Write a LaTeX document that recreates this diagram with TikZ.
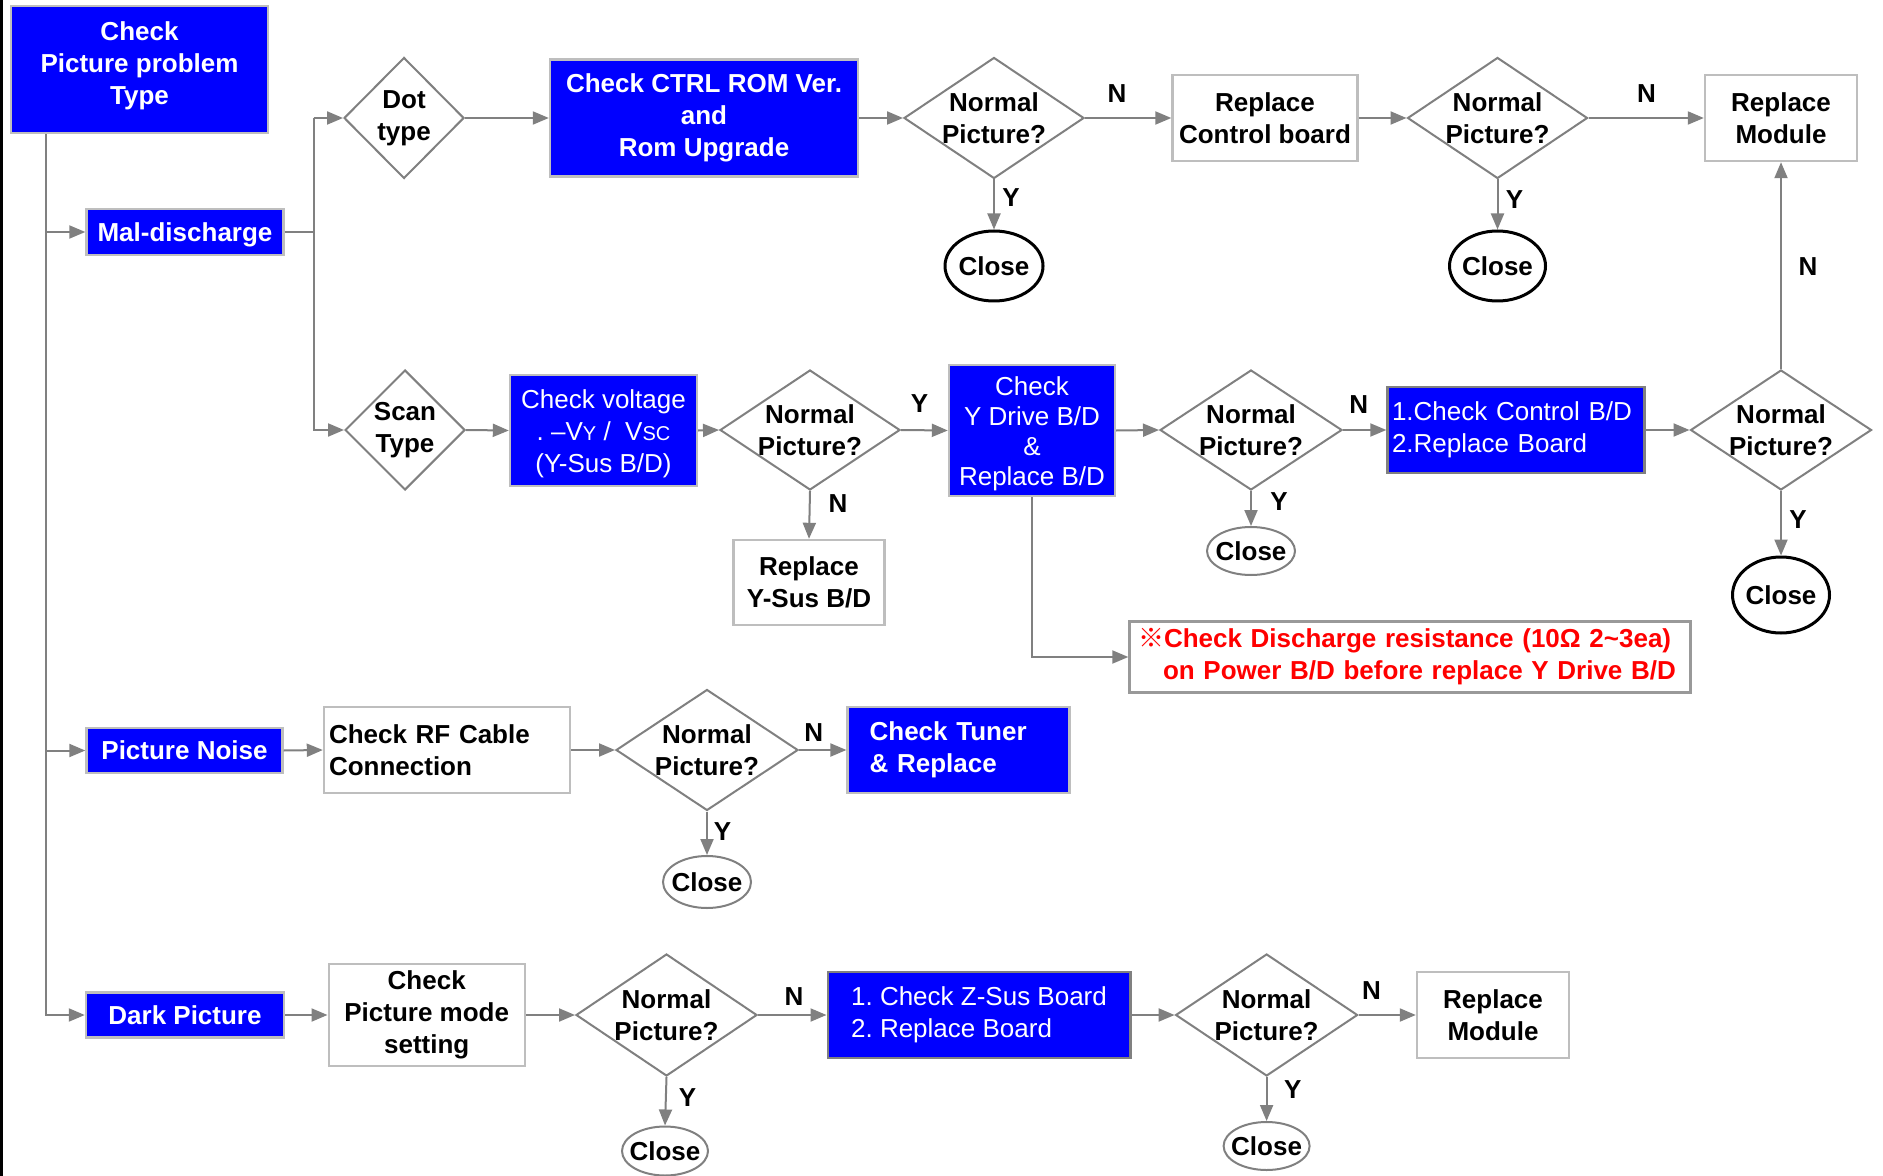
\documentclass[tikz,border=0pt]{standalone}
\usepackage{fontspec}
\setmainfont{Liberation Sans}
\newfontfamily\cjk{Noto Sans CJK SC}
\usetikzlibrary{shapes.geometric, arrows.meta}
\definecolor{pblue}{RGB}{0,0,255}
\definecolor{lgray}{RGB}{128,128,128}
\definecolor{bgray}{RGB}{190,190,190}
\definecolor{pred}{RGB}{255,0,0}
\newcommand{\fs}{\fontsize{13}{16}\selectfont}
\newcommand{\fsm}{\fontsize{10}{12}\selectfont}
\frenchspacing
\tikzset{
  box/.style={rectangle, draw=bgray, line width=1.2pt, inner sep=0pt, align=center, font=\fs\bfseries},
  bluebox/.style={box, fill=pblue, text=white},
  bluereg/.style={box, fill=pblue, text=white, font=\fs},
  whitebox/.style={box, fill=white, text=black},
  oneline/.style={text depth=0pt},
  wtext/.style={font=\fs\bfseries, text=white, align=center, inner sep=0pt},
  wregtext/.style={font=\fs, text=white, align=center, inner sep=0pt},
  dia/.style={diamond, draw=lgray, line width=1pt, inner sep=0pt, fill=white},
  dtext/.style={font=\fs\bfseries, align=center, inner sep=0pt},
  closeb/.style={ellipse, draw=black, line width=1.5pt, inner sep=0pt, fill=white},
  closeg/.style={ellipse, draw=lgray, line width=1pt, inner sep=0pt, fill=white},
  conn/.style={draw=lgray, line width=1pt},
  arr/.style={conn, -{Triangle[length=8pt,width=6.5pt]}},
  lab/.style={font=\fs\bfseries, inner sep=0pt},
}
\begin{document}
\begin{tikzpicture}[x=0.5pt, y=-0.5pt]
\useasboundingbox (0,0) rectangle (1883,1176);
\fill[white] (0,0) rectangle (1883,1176);
\fill[black] (0,0) rectangle (2.5,1176);

% ---------- nodes ----------
\node[bluebox, minimum width=128.5pt, minimum height=63.5pt, label={[wtext, yshift=1.8pt]center:Check\\Picture problem\\Type}] (top) at (139.5,69.5) {};
\node[bluebox, oneline, minimum width=98.5pt, minimum height=23pt] (mal) at (185,232) {Mal-discharge};
\node[bluebox, oneline, minimum width=98pt, minimum height=22.5pt] (noise) at (184.5,750.5) {Picture Noise};
\node[bluebox, oneline, minimum width=99pt, minimum height=22.5pt] (dark) at (185,1015) {Dark Picture};

\coordinate (bx) at (313.5,232);
\coordinate (tk) at (45.5,1015);

% row 1
\node[dia, minimum width=60pt, minimum height=60.5pt, label={[dtext]center:Dot\\type}] (dot) at (404,118) {};
\node[bluebox, minimum width=154pt, minimum height=58.5pt] (ctrl) at (704,118) {Check CTRL ROM Ver.\\and\\Rom Upgrade};
\node[dia, minimum width=90pt, minimum height=60.5pt, label={[dtext]center:Normal\\Picture?}] (d1) at (994,118) {};
\node[closeb, minimum width=49pt, minimum height=35pt, label={[dtext]center:Close}] (c1) at (994,266) {};
\node[whitebox, minimum width=92.5pt, minimum height=43pt] (rcb) at (1265,118) {Replace\\Control board};
\node[dia, minimum width=90pt, minimum height=60.5pt, label={[dtext]center:Normal\\Picture?}] (d2) at (1497.5,118) {};
\node[closeb, minimum width=48pt, minimum height=35pt, label={[dtext]center:Close}] (c2) at (1497.5,266) {};
\node[whitebox, minimum width=76pt, minimum height=43pt] (rm1) at (1781,118) {Replace\\Module};

% row 2
\node[dia, minimum width=60pt, minimum height=60pt, label={[dtext]center:Scan\\Type}] (scan) at (405,430) {};
\node[bluereg, minimum width=93.5pt, minimum height=55.5pt, label={[wregtext, yshift=-1.8pt]center:Check voltage\\. --V{\fsm Y} /\ \ V{\fsm SC}\\(Y-Sus B/D)}] (cv) at (603.5,430.5) {};
\node[dia, minimum width=90pt, minimum height=60pt, label={[dtext]center:Normal\\Picture?}] (d3) at (810,430) {};
\node[whitebox, minimum width=75.5pt, minimum height=42.5pt] (rys) at (809,582.5) {Replace\\Y-Sus B/D};
\node[bluereg, minimum width=83pt, minimum height=65.5pt, label={[wregtext, font=\fontsize{13}{15}\selectfont, yshift=-1.8pt]center:Check\\Y Drive B/D\\\&\\Replace B/D}] (yd) at (1032,430.5) {};
\node[dia, minimum width=91pt, minimum height=60pt, label={[dtext]center:Normal\\Picture?}] (d4) at (1251,430) {};
\node[closeg, minimum width=44pt, minimum height=24pt, label={[dtext]center:Close}] (c3) at (1251,551) {};
\node[bluereg, align=left, text width=124pt, inner xsep=2.25pt, minimum height=43pt, draw=lgray] (cc) at (1516,430) {1.Check Control B/D\\2.Replace Board};
\node[dia, minimum width=90.5pt, minimum height=60pt, label={[dtext]center:Normal\\Picture?}] (d5) at (1781,430) {};
\node[closeb, minimum width=48.5pt, minimum height=38pt, label={[dtext]center:Close}] (c4) at (1781,595) {};
\node[box, draw=lgray!80, fill=white, text=pred, align=left, text width=272pt, inner xsep=4.25pt, minimum height=35.5pt] (red) at (1410,657)
  {{\cjk\bfseries ※}Check Discharge resistance (10Ω 2\textasciitilde3ea)\\\hspace*{12.5pt}on Power B/D before replace Y Drive B/D};

% row 3
\node[whitebox, align=left, text width=118pt, inner xsep=2.5pt, minimum height=43pt] (rf) at (447,750) {Check RF Cable\\Connection};
\node[dia, minimum width=91pt, minimum height=60.5pt, label={[dtext]center:Normal\\Picture?}] (d7) at (707,750) {};
\node[bluebox, align=left, text width=89pt, inner xsep=11pt, minimum height=43pt] (tuner) at (958.6,750) {Check Tuner\\\& Replace};
\node[closeg, minimum width=44pt, minimum height=26pt, label={[dtext]center:Close}] (c5) at (707,882) {};

% row 4
\node[whitebox, minimum width=98pt, minimum height=51pt] (pm) at (426.7,1015) {Check\\Picture mode\\setting};
\node[dia, minimum width=90.5pt, minimum height=61pt, label={[dtext]center:Normal\\Picture?}] (d8) at (666.5,1015) {};
\node[closeg, minimum width=43pt, minimum height=24.5pt, label={[dtext]center:Close}] (c6) at (665,1151) {};
\node[bluereg, align=left, minimum width=151.3pt, minimum height=43pt, draw=lgray] (zs) at (979,1015) {1. Check Z-Sus Board\\2. Replace Board};
\node[dia, minimum width=91pt, minimum height=61pt, label={[dtext]center:Normal\\Picture?}] (d9) at (1266.6,1015) {};
\node[closeg, minimum width=43pt, minimum height=24pt, label={[dtext]center:Close}] (c7) at (1266.6,1146) {};
\node[whitebox, minimum width=76pt, minimum height=43pt] (rm2) at (1493,1015) {Replace\\Module};

% ---------- connectors ----------
\draw[arr] (top.south -| tk) -- (tk) -- (dark.west);
\draw[arr] (mal.west -| tk) -- (mal.west);
\draw[arr] (noise.west -| tk) -- (noise.west);
\draw[conn] (mal.east) -- (bx);
\draw[arr] (bx |- dot.west) -- (dot.west);
\draw[arr] (bx |- dot.west) -- (bx |- scan.west) -- (scan.west);

\draw[arr] (dot.east) -- (ctrl.west);
\draw[arr] (ctrl.east) -- (d1.west);
\draw[arr] (d1.east) -- (rcb.west);
\draw[arr] (d1.south) -- (c1.north);
\draw[arr] (rcb.east) -- (d2.west);
\draw[arr] (d2.east) -- (rm1.west);
\draw[arr] (d2.south) -- (c2.north);

\draw[arr] (scan.east) -- (cv.west);
\draw[arr] (cv.east) -- (d3.west);
\draw[arr] (d3.east) -- (yd.west);
\draw[arr] (d3.south) -- (rys.north);
\draw[arr] (yd.east) -- (d4.west);
\draw[arr] (yd.south) |- (red.west);
\draw[arr] (d4.east) -- (cc.west);
\draw[arr] (d4.south) -- (c3.north);
\draw[arr] (cc.east) -- (d5.west);
\draw[arr] (d5.north) -- (rm1.south);
\draw[arr] (d5.south) -- (c4.north);

\draw[arr] (noise.east) -- (rf.west);
\draw[arr] (rf.east) -- (d7.west);
\draw[arr] (d7.east) -- (tuner.west);
\draw[arr] (d7.south) -- (c5.north);

\draw[arr] (dark.east) -- (pm.west);
\draw[arr] (pm.east) -- (d8.west);
\draw[arr] (d8.east) -- (zs.west);
\draw[arr] (d8.south) -- (c6.north);
\draw[arr] (zs.east) -- (d9.west);
\draw[arr] (d9.east) -- (rm2.west);
\draw[arr] (d9.south) -- (c7.north);

% ---------- Y/N labels ----------
\node[lab] (n1) at (1117,94) {N};
\node[lab] (y1) at (1011,198) {Y};
\node[lab] (n2) at (1646.5,94) {N};
\node[lab] (y2) at (1514.6,200) {Y};
\node[lab] (n3) at (1808,267) {N};
\node[lab] (y3) at (919.6,404) {Y};
\node[lab] (n4) at (838,504) {N};
\node[lab] (n5) at (1358.7,405) {N};
\node[lab] (y5) at (1279,501.7) {Y};
\node[lab] (y6) at (1798,520) {Y};
\node[lab] (n7) at (813.7,733) {N};
\node[lab] (y7) at (722.5,831.7) {Y};
\node[lab] (n8) at (794,996.7) {N};
\node[lab] (y8) at (687.5,1098) {Y};
\node[lab] (n9) at (1371.6,991) {N};
\node[lab] (y9) at (1292.8,1090) {Y};
\end{tikzpicture}
\end{document}
